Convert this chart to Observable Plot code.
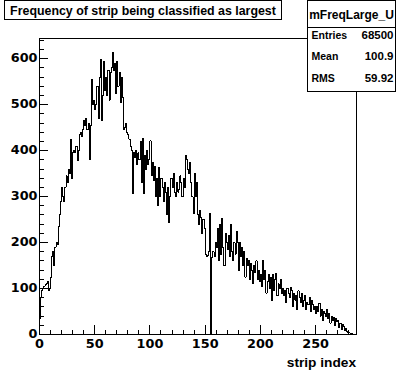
<!DOCTYPE html>
<html>
<head>
<meta charset="utf-8">
<script src="https://cdn.jsdelivr.net/npm/d3@7"></script>
<script src="https://cdn.jsdelivr.net/npm/@observablehq/plot@0.6"></script>
<style>
  html, body { margin: 0; padding: 0; background: white; }
  #chart svg { display: block; }
</style>
</head>
<body>
<div id="chart"></div>
<script>
// ---- data ----
const histName = "mFreqLarge_U";
const title = "Frequency of strip being classified as largest";
const xLabel = "strip index";
const xMin = 0;
const xMax = 287;
const yMax = 644;
const statLabels = ["Entries", "Mean", "RMS"];
const statValues = ["68500", "100.9", "59.92"];
const xMajorTicks = [0, 50, 100, 150, 200, 250];
const yMajorTicks = [0, 100, 200, 300, 400, 500, 600];
const counts = [
  35, 80, 95, 100, 105, 108, 110, 115, 95, 100,
  125, 170, 180, 150, 190, 200, 195, 235, 260, 290,
  320, 300, 290, 320, 345, 330, 360, 350, 425, 340,
  395, 400, 395, 410, 378, 400, 435, 440, 430, 445,
  465, 455, 470, 445, 460, 380, 455, 555, 500, 510,
  490, 500, 540, 470, 560, 598, 465, 520, 595, 530,
  560, 520, 575, 510, 570, 580, 613, 575, 590, 525,
  595, 540, 570, 505, 560, 515, 445, 450, 460, 440,
  435, 425, 410, 400, 306, 395, 385, 400, 370, 395,
  380, 420, 330, 426, 306, 390, 360, 400, 370, 380,
  421, 345, 375, 335, 365, 300, 340, 280, 363, 300,
  340, 320, 290, 330, 310, 260, 320, 243, 300, 340,
  320, 350, 310, 300, 330, 310, 315, 345, 330, 300,
  340, 320, 389, 380, 360, 350, 374, 330, 300, 263,
  350, 300, 330, 260, 240, 270, 255, 220, 250, 230,
  175, 170, 172, 180, 263, 0, 168, 180, 170, 200,
  190, 230, 160, 240, 175, 253, 190, 150, 220, 200,
  185, 215, 170, 240, 180, 160, 200, 175, 225, 200,
  140, 200, 170, 190, 150, 180, 125, 165, 150, 160,
  120, 155, 140, 110, 150, 135, 160, 120, 140, 115,
  130, 105, 161, 120, 140, 90, 115, 130, 100, 125,
  75, 130, 95, 120, 133, 85, 110, 100, 120, 90,
  100, 85, 95, 70, 100, 90, 80, 103, 95, 60,
  90, 75, 85, 55, 95, 80, 70, 90, 60, 75,
  85, 55, 70, 65, 80, 50, 75, 65, 55, 60,
  45, 62, 50, 68, 40, 55, 30, 50, 45, 40,
  55, 35, 45, 25, 40, 30, 38, 20, 35, 28,
  30, 15, 25, 10, 22, 18, 8, 12, 6, 5,
  4, 3, 2, 0, 0, 0, 0
];

// step outline points: left edge of each bin, plus the closing right edge
const points = [{x: xMin, y: 0}];
counts.forEach((c, i) => points.push({x: xMin + i, y: c}));
points.push({x: xMin + counts.length, y: counts[counts.length - 1]});

const numFont = "DejaVu Sans";
const txtFont = "Liberation Sans, Arial, sans-serif";

const chart = Plot.plot({
  width: 396,
  height: 372,
  marginLeft: 39,
  marginRight: 40,
  marginTop: 38,
  marginBottom: 38,
  x: {domain: [xMin, xMax]},
  y: {domain: [0, yMax]},
  style: {background: "white", color: "black", fontFamily: numFont, fontWeight: "bold", overflow: "visible"},
  marks: [
    Plot.lineY(points, {x: "x", y: "y", curve: "step-after", stroke: "black", strokeWidth: 1, shapeRendering: "crispEdges"}),
    Plot.axisX({ticks: d3.range(0, 281, 10), tickSize: -4.5, text: null, label: null, shapeRendering: "crispEdges"}),
    Plot.axisX({ticks: xMajorTicks, tickSize: -9, text: null, label: null, shapeRendering: "crispEdges"}),
    Plot.axisX({ticks: xMajorTicks, tickSize: 0, tickPadding: 4, label: null, fontSize: 12.8, fontWeight: "bold", fontFamily: numFont}),
    Plot.axisY({ticks: d3.range(0, 641, 20), tickSize: -4.5, text: null, label: null, shapeRendering: "crispEdges"}),
    Plot.axisY({ticks: yMajorTicks, tickSize: -9, text: null, label: null, shapeRendering: "crispEdges"}),
    Plot.axisY({ticks: yMajorTicks, tickSize: 0, tickPadding: 2, dy: -1, label: null, fontSize: 12.8, fontWeight: "bold", fontFamily: numFont}),
    Plot.frame({stroke: "black", strokeWidth: 1, shapeRendering: "crispEdges"})
  ]
});
document.getElementById("chart").appendChild(chart);

// ---- ROOT-style annotations (title pave, stats box, axis title) ----
const svg = d3.select(chart);
const g = svg.append("g").attr("shape-rendering", "crispEdges");

// axis title, right-aligned at frame right edge
svg.append("text")
  .attr("x", 356).attr("y", 367)
  .attr("text-anchor", "end")
  .style("font-family", txtFont).style("font-weight", "bold").style("font-size", "13.7px")
  .text(xLabel);

// title box
g.append("rect").attr("x", 4.5).attr("y", 0.5).attr("width", 277).attr("height", 18.5)
  .attr("fill", "white").attr("stroke", "black");
svg.append("text")
  .attr("x", 143).attr("y", 14.5)
  .attr("text-anchor", "middle")
  .style("font-family", txtFont).style("font-weight", "bold").style("font-size", "12.4px")
  .text(title);

// stats box
g.append("rect").attr("x", 307.5).attr("y", 0.5).attr("width", 88).attr("height", 90.5)
  .attr("fill", "white").attr("stroke", "black");
g.append("line").attr("x1", 307.5).attr("x2", 395.5).attr("y1", 27.5).attr("y2", 27.5).attr("stroke", "black");
svg.append("text")
  .attr("x", 351.5).attr("y", 18.5)
  .attr("text-anchor", "middle")
  .style("font-family", txtFont).style("font-weight", "bold").style("font-size", "12px")
  .text(histName);
const rowY = [38.5, 60, 81.5];
statLabels.forEach((lab, i) => {
  svg.append("text")
    .attr("x", 311.5).attr("y", rowY[i])
    .attr("text-anchor", "start")
    .style("font-family", txtFont).style("font-weight", "bold").style("font-size", "10.5px")
    .text(lab);
  svg.append("text")
    .attr("x", 393.5).attr("y", rowY[i])
    .attr("text-anchor", "end")
    .style("font-family", txtFont).style("font-weight", "bold").style("font-size", "11.5px")
    .text(statValues[i]);
});
</script>
</body>
</html>
